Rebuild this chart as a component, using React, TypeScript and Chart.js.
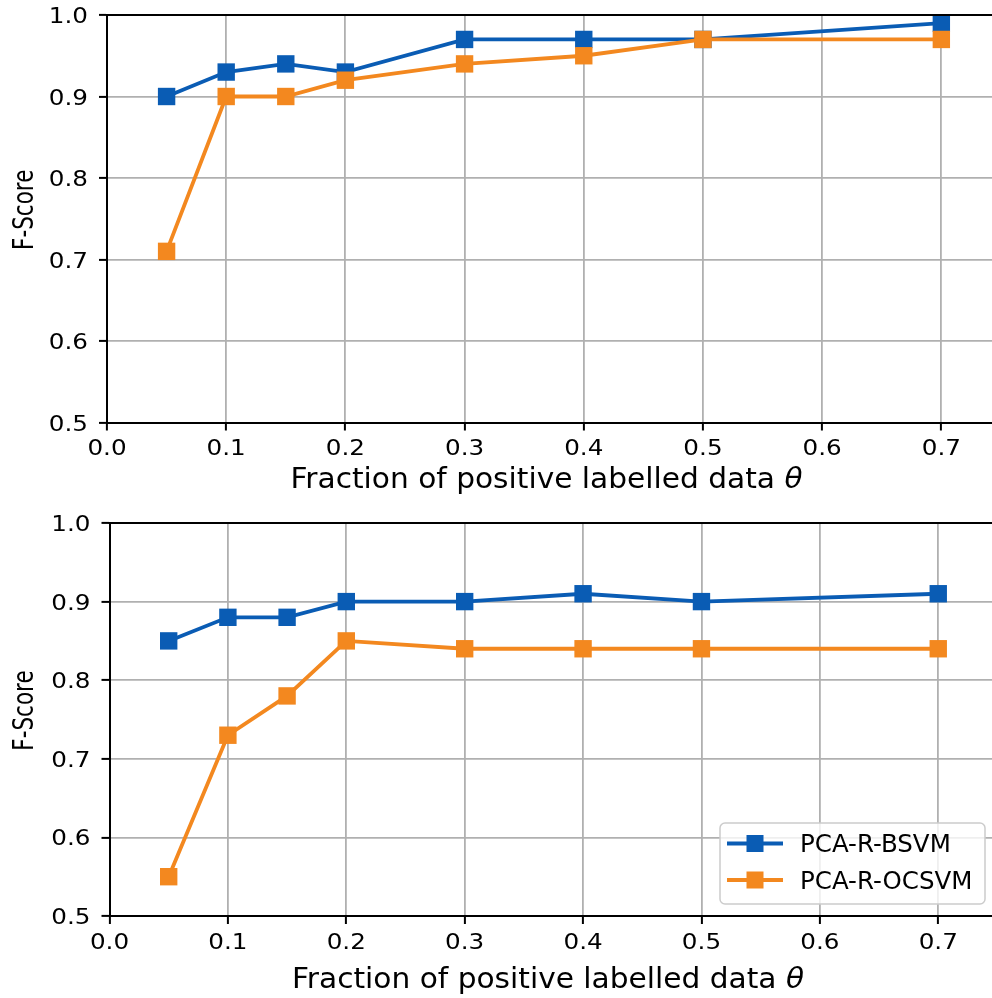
import React, { useEffect, useRef } from "react";
import { Chart, registerables } from "chart.js";

Chart.register(...registerables);

// ---------------- data ----------------
const thetaValues = [0.05, 0.1, 0.15, 0.2, 0.3, 0.4, 0.5, 0.7];
const topBSVM = [0.9, 0.93, 0.94, 0.93, 0.97, 0.97, 0.97, 0.99];
const topOCSVM = [0.71, 0.9, 0.9, 0.92, 0.94, 0.95, 0.97, 0.97];
const bottomBSVM = [0.85, 0.88, 0.88, 0.9, 0.9, 0.91, 0.9, 0.91];
const bottomOCSVM = [0.55, 0.73, 0.78, 0.85, 0.84, 0.84, 0.84, 0.84];
const seriesNames = ["PCA-R-BSVM", "PCA-R-OCSVM"];
const xTickValues = [0, 0.1, 0.2, 0.3, 0.4, 0.5, 0.6, 0.7];
const xTickLabels = ["0.0", "0.1", "0.2", "0.3", "0.4", "0.5", "0.6", "0.7"];
const yTickValues = [0.5, 0.6, 0.7, 0.8, 0.9, 1.0];
const yTickLabels = ["0.5", "0.6", "0.7", "0.8", "0.9", "1.0"];
const xTitleMain = "Fraction of positive labelled data ";
const xTitleSymbol = "θ";
const yTitle = "F-Score";

const BLUE = "#0a5cb4";
const ORANGE = "#f3881f";
const FONT = "'DejaVu Sans'";

type Cfg = {
  top: number;
  height: number;
  padTop: number;
  yAxisW: number;
  xAxisH: number;
  xMax: number;
  bsvm: number[];
  ocsvm: number[];
  xTitleBaseline: number;
  xTitleCenter: number;
  yTitleX: number;
  yTitleCenterOffset: number;
  legend: boolean;
};

const topCfg: Cfg = {
  top: 0,
  height: 500,
  padTop: 15,
  yAxisW: 107,
  xAxisH: 77.5,
  xMax: 0.7425,
  bsvm: topBSVM,
  ocsvm: topOCSVM,
  xTitleBaseline: 488.3,
  xTitleCenter: 546.5,
  yTitleX: 33,
  yTitleCenterOffset: -9,
  legend: false,
};

const bottomCfg: Cfg = {
  top: 500,
  height: 498,
  padTop: 23,
  yAxisW: 109.5,
  xAxisH: 82,
  xMax: 0.7454,
  bsvm: bottomBSVM,
  ocsvm: bottomOCSVM,
  xTitleBaseline: 487.5,
  xTitleCenter: 548,
  yTitleX: 33,
  yTitleCenterOffset: -9,
  legend: true,
};

const TICK_SIZE = 22;
const TICK_SX = 1.12;
const TITLE_SIZE = 28.5;
const TITLE_SX = 1.04;
const YTITLE_SIZE = 21.5;
const YTITLE_SX = 1.3;
const LEGEND_SIZE = 24.5;

function drawStretched(
  ctx: CanvasRenderingContext2D,
  text: string,
  x: number,
  y: number,
  size: number,
  sx: number,
  align: CanvasTextAlign,
  style = ""
) {
  ctx.save();
  ctx.font = `${style} ${size}px ${FONT}`;
  ctx.textBaseline = "alphabetic";
  ctx.textAlign = align;
  ctx.fillStyle = "#000";
  ctx.translate(x, y);
  ctx.scale(sx, 1);
  ctx.fillText(text, 0, 0);
  ctx.restore();
}

function makePlugin(cfg: Cfg) {
  return {
    id: "decor",
    afterDraw(chart: any) {
      const ctx: CanvasRenderingContext2D = chart.ctx;
      const area = chart.chartArea;
      const xs = chart.scales.x;
      const ys = chart.scales.y;

      // top spine
      ctx.save();
      ctx.strokeStyle = "#000";
      ctx.lineWidth = 2;
      ctx.beginPath();
      ctx.moveTo(area.left - 1, area.top);
      ctx.lineTo(area.right, area.top);
      ctx.stroke();
      ctx.restore();

      // y tick labels
      yTickValues.forEach((v, i) => {
        const py = ys.getPixelForValue(v);
        drawStretched(ctx, yTickLabels[i], area.left - 19, py + 0.364 * TICK_SIZE, TICK_SIZE, TICK_SX, "right");
      });
      // x tick labels
      xTickValues.forEach((v, i) => {
        const px = xs.getPixelForValue(v);
        drawStretched(ctx, xTickLabels[i], px, area.bottom + 24.5 + 0.364 * TICK_SIZE, TICK_SIZE, TICK_SX, "center");
      });

      // x title
      ctx.save();
      ctx.font = `${TITLE_SIZE}px ${FONT}`;
      const w1 = ctx.measureText(xTitleMain).width;
      ctx.font = `italic ${TITLE_SIZE}px ${FONT}`;
      const w2 = ctx.measureText(xTitleSymbol).width;
      ctx.restore();
      const total = (w1 + w2) * TITLE_SX;
      const startX = cfg.xTitleCenter - total / 2;
      drawStretched(ctx, xTitleMain, startX, cfg.xTitleBaseline, TITLE_SIZE, TITLE_SX, "left");
      drawStretched(ctx, xTitleSymbol, startX + w1 * TITLE_SX, cfg.xTitleBaseline, TITLE_SIZE, TITLE_SX, "left", "italic");

      // y title
      ctx.save();
      ctx.font = `${YTITLE_SIZE}px ${FONT}`;
      ctx.fillStyle = "#000";
      ctx.textAlign = "center";
      ctx.textBaseline = "alphabetic";
      ctx.translate(cfg.yTitleX, (area.top + area.bottom) / 2 + cfg.yTitleCenterOffset);
      ctx.scale(YTITLE_SX, 1);
      ctx.rotate(-Math.PI / 2);
      ctx.fillText(yTitle, 0, 0);
      ctx.restore();

      // legend
      if (cfg.legend) {
        const bx = 720, by = 323, bw = 265, bh = 81, r = 5;
        ctx.save();
        ctx.beginPath();
        ctx.moveTo(bx + r, by);
        ctx.lineTo(bx + bw - r, by);
        ctx.arcTo(bx + bw, by, bx + bw, by + r, r);
        ctx.lineTo(bx + bw, by + bh - r);
        ctx.arcTo(bx + bw, by + bh, bx + bw - r, by + bh, r);
        ctx.lineTo(bx + r, by + bh);
        ctx.arcTo(bx, by + bh, bx, by + bh - r, r);
        ctx.lineTo(bx, by + r);
        ctx.arcTo(bx, by, bx + r, by, r);
        ctx.closePath();
        ctx.fillStyle = "rgba(255,255,255,0.8)";
        ctx.fill();
        ctx.strokeStyle = "#cccccc";
        ctx.lineWidth = 1.5;
        ctx.stroke();
        const entries = [
          { name: seriesNames[0], color: BLUE, y: by + 20.5 },
          { name: seriesNames[1], color: ORANGE, y: by + 57 },
        ];
        entries.forEach((e) => {
          ctx.strokeStyle = e.color;
          ctx.lineWidth = 4;
          ctx.beginPath();
          ctx.moveTo(bx + 7, e.y);
          ctx.lineTo(bx + 63, e.y);
          ctx.stroke();
          ctx.fillStyle = e.color;
          ctx.fillRect(bx + 35 - 8.5, e.y - 8.5, 17, 17);
          ctx.fillStyle = "#000";
          ctx.font = `${LEGEND_SIZE}px ${FONT}`;
          ctx.textAlign = "left";
          ctx.textBaseline = "alphabetic";
          ctx.fillText(e.name, bx + 80, e.y + 0.364 * LEGEND_SIZE);
        });
        ctx.restore();
      }
    },
  };
}

function dataset(label: string, ys: number[], color: string, order: number) {
  return {
    label,
    data: thetaValues.map((x, i) => ({ x, y: ys[i] })),
    borderColor: color,
    backgroundColor: color,
    borderWidth: 3.8,
    pointStyle: "rect",
    pointRadius: 12.3,
    pointHoverRadius: 12.3,
    pointBorderWidth: 0,
    pointBackgroundColor: color,
    pointBorderColor: color,
    tension: 0,
    clip: false,
    order,
  };
}

function Panel({ cfg }: { cfg: Cfg }) {
  const ref = useRef<HTMLCanvasElement | null>(null);
  useEffect(() => {
    if (!ref.current) return;
    const gridCommon = {
      color: "#b0b0b0",
      lineWidth: 1.8,
      tickColor: "#000",
      tickWidth: 2,
      tickLength: 8,
      drawTicks: true,
    };
    const chart = new Chart(ref.current, {
      type: "line",
      data: {
        datasets: [
          dataset(seriesNames[0], cfg.bsvm, BLUE, 1),
          dataset(seriesNames[1], cfg.ocsvm, ORANGE, 0),
        ] as any,
      },
      options: {
        animation: false,
        responsive: false,
        maintainAspectRatio: false,
        events: [],
        layout: { autoPadding: false, padding: { top: cfg.padTop, left: 0, right: 0, bottom: 0 } },
        plugins: { legend: { display: false }, tooltip: { enabled: false } },
        scales: {
          x: {
            type: "linear",
            min: 0,
            max: cfg.xMax,
            afterBuildTicks: (s: any) => {
              s.ticks = xTickValues.map((v) => ({ value: v }));
            },
            afterFit: (s: any) => {
              s.height = cfg.xAxisH;
            },
            ticks: { display: false, includeBounds: false },
            grid: gridCommon,
            border: { display: true, color: "#000", width: 2 },
          },
          y: {
            type: "linear",
            min: 0.5,
            max: 1.0,
            afterBuildTicks: (s: any) => {
              s.ticks = yTickValues.map((v) => ({ value: v }));
            },
            afterFit: (s: any) => {
              s.width = cfg.yAxisW;
            },
            ticks: { display: false, includeBounds: false },
            grid: gridCommon,
            border: { display: true, color: "#000", width: 2 },
          },
        },
      } as any,
      plugins: [makePlugin(cfg)],
    });
    return () => chart.destroy();
  }, [cfg]);
  return (
    <div style={{ position: "absolute", left: 0, top: cfg.top, width: 992, height: cfg.height }}>
      <canvas ref={ref} width={992} height={cfg.height} style={{ display: "block", width: 992, height: cfg.height }} />
    </div>
  );
}

export default function App() {
  return (
    <div
      style={{
        position: "absolute",
        left: 0,
        top: 0,
        width: 992,
        height: 998,
        overflow: "hidden",
        background: "#fff",
      }}
    >
      <Panel cfg={topCfg} />
      <Panel cfg={bottomCfg} />
    </div>
  );
}
